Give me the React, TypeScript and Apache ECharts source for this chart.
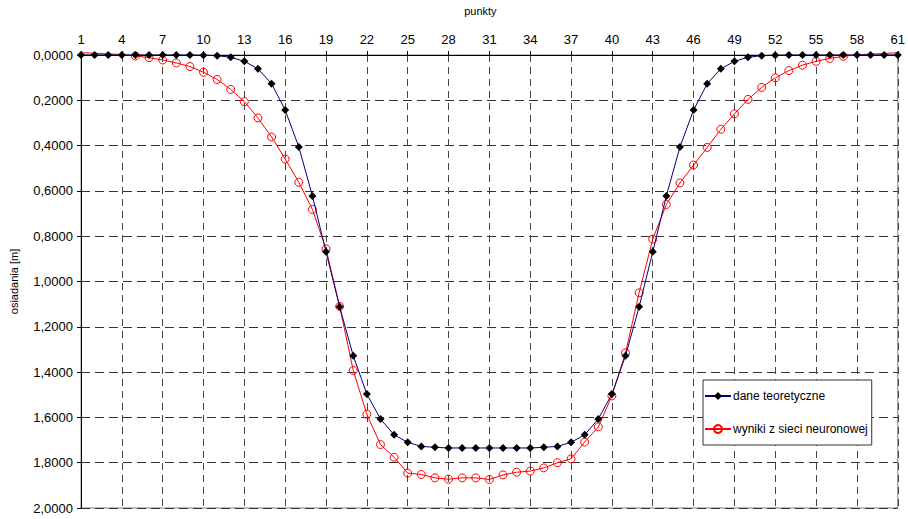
import React, { useEffect, useRef } from "react";
import * as echarts from "echarts";

const categories: string[] = [
  "1","2","3","4","5","6","7","8","9","10",
  "11","12","13","14","15","16","17","18","19","20",
  "21","22","23","24","25","26","27","28","29","30",
  "31","32","33","34","35","36","37","38","39","40",
  "41","42","43","44","45","46","47","48","49","50",
  "51","52","53","54","55","56","57","58","59","60","61",
];

const theoreticalName = "dane teoretyczne";
const theoretical: number[] = [
  0, 0, 0, 0, 0, 0, 0, 0, 0, 0.001,
  0.003, 0.010, 0.028, 0.061, 0.127, 0.243, 0.406, 0.622, 0.869, 1.112,
  1.328, 1.497, 1.607, 1.677, 1.710, 1.728, 1.732, 1.735, 1.735, 1.735,
  1.735, 1.735, 1.735, 1.735, 1.732, 1.728, 1.710, 1.677, 1.607, 1.497,
  1.328, 1.112, 0.869, 0.622, 0.406, 0.243, 0.127, 0.061, 0.028, 0.010,
  0.003, 0.001, 0, 0, 0, 0, 0, 0, 0, 0, 0,
];

const networkName = "wyniki z sieci neuronowej";
const network: number[] = [
  -0.010, -0.008, -0.005, -0.002, 0.004, 0.012, 0.022, 0.035, 0.051, 0.076,
  0.108, 0.152, 0.206, 0.278, 0.362, 0.459, 0.562, 0.682, 0.856, 1.110,
  1.393, 1.586, 1.720, 1.776, 1.846, 1.852, 1.867, 1.873, 1.867, 1.867,
  1.874, 1.854, 1.842, 1.837, 1.823, 1.800, 1.783, 1.709, 1.642, 1.505,
  1.315, 1.050, 0.813, 0.660, 0.565, 0.486, 0.408, 0.328, 0.260, 0.196,
  0.143, 0.101, 0.069, 0.045, 0.028, 0.015, 0.006, -0.001, -0.004, -0.007, -0.010,
];
// markers of the network series are shown for points 5..57 only
const networkMarkerFrom = 5;
const networkMarkerTo = 57;

const yTicks = { min: 0, max: 2, interval: 0.2 };

const FONT = "'Liberation Sans', Arial, sans-serif";

export default function App() {
  const ref = useRef<HTMLDivElement>(null);

  useEffect(() => {
    document.body.style.margin = "0";
    if (!ref.current) return;
    const chart = echarts.init(ref.current, undefined, { renderer: "svg" });

    const networkData = network.map((v, i) => {
      const p = Number(categories[i]);
      if (p >= networkMarkerFrom && p <= networkMarkerTo) return v;
      return { value: v, symbol: "none" };
    });

    chart.setOption({
      animation: false,
      backgroundColor: "#fff",
      textStyle: { fontFamily: FONT },
      grid: {
        left: 77,
        top: 52,
        right: 9,
        bottom: 11,
        show: true,
        borderColor: "#808080",
        borderWidth: 1,
        backgroundColor: "transparent",
      },
      legend: {
        left: 703,
        top: 380,
        orient: "vertical",
        itemWidth: 26,
        itemHeight: 10,
        itemGap: 21,
        padding: [10, 4, 10, 1],
        borderColor: "#333",
        borderWidth: 1,
        borderRadius: 0,
        backgroundColor: "#fff",
        textStyle: { fontFamily: FONT, fontSize: 12, color: "#000", padding: [0, 0, 0, -3] },
        data: [theoreticalName, networkName],
      },
      xAxis: {
        type: "category",
        position: "top",
        data: categories,
        boundaryGap: false,
        name: "punkty",
        nameLocation: "middle",
        nameGap: 39,
        nameTextStyle: { fontFamily: FONT, fontSize: 11, color: "#000", padding: [0, 18, 0, 0] },
        axisLine: { show: true, onZero: false, lineStyle: { color: "#000", width: 1 } },
        axisTick: { show: true, interval: 2, length: 4, lineStyle: { color: "#000" } },
        axisLabel: { interval: 2, margin: 9, fontFamily: FONT, fontSize: 13, color: "#000" },
        splitLine: {
          show: true,
          interval: 2,
          lineStyle: { color: "#444", type: [7, 5], width: 1 },
        },
      },
      yAxis: {
        type: "value",
        inverse: true,
        min: yTicks.min,
        max: yTicks.max,
        interval: yTicks.interval,
        name: "osiadania [m]",
        nameLocation: "middle",
        nameGap: 62,
        nameTextStyle: { fontFamily: FONT, fontSize: 11, color: "#000" },
        axisLine: { show: true, onZero: false, lineStyle: { color: "#000", width: 1 } },
        axisTick: { show: true, length: 4, lineStyle: { color: "#000" } },
        axisLabel: {
          margin: 8,
          fontFamily: FONT,
          fontSize: 13,
          color: "#000",
          formatter: (v: number) => v.toFixed(4).replace(".", ","),
        },
        splitLine: {
          show: true,
          lineStyle: { color: "#333", type: [9, 5], width: 1 },
        },
      },
      series: [
        {
          name: networkName,
          type: "line",
          data: networkData,
          clip: false,
          symbol: "circle",
          symbolSize: 8,
          showAllSymbol: true,
          lineStyle: { color: "#ff0000", width: 1 },
          itemStyle: { color: "rgba(255,255,255,0)", borderColor: "#ff0000", borderWidth: 1 },
          z: 2,
        },
        {
          name: theoreticalName,
          type: "line",
          data: theoretical,
          clip: false,
          symbol: "diamond",
          symbolSize: 8,
          showAllSymbol: true,
          lineStyle: { color: "#000080", width: 1 },
          itemStyle: { color: "#000", borderColor: "#000", borderWidth: 0 },
          z: 3,
        },
      ],
    });

    return () => chart.dispose();
  }, []);

  return (
    <div
      ref={ref}
      style={{ position: "absolute", left: 0, top: 0, width: 908, height: 519 }}
    />
  );
}
